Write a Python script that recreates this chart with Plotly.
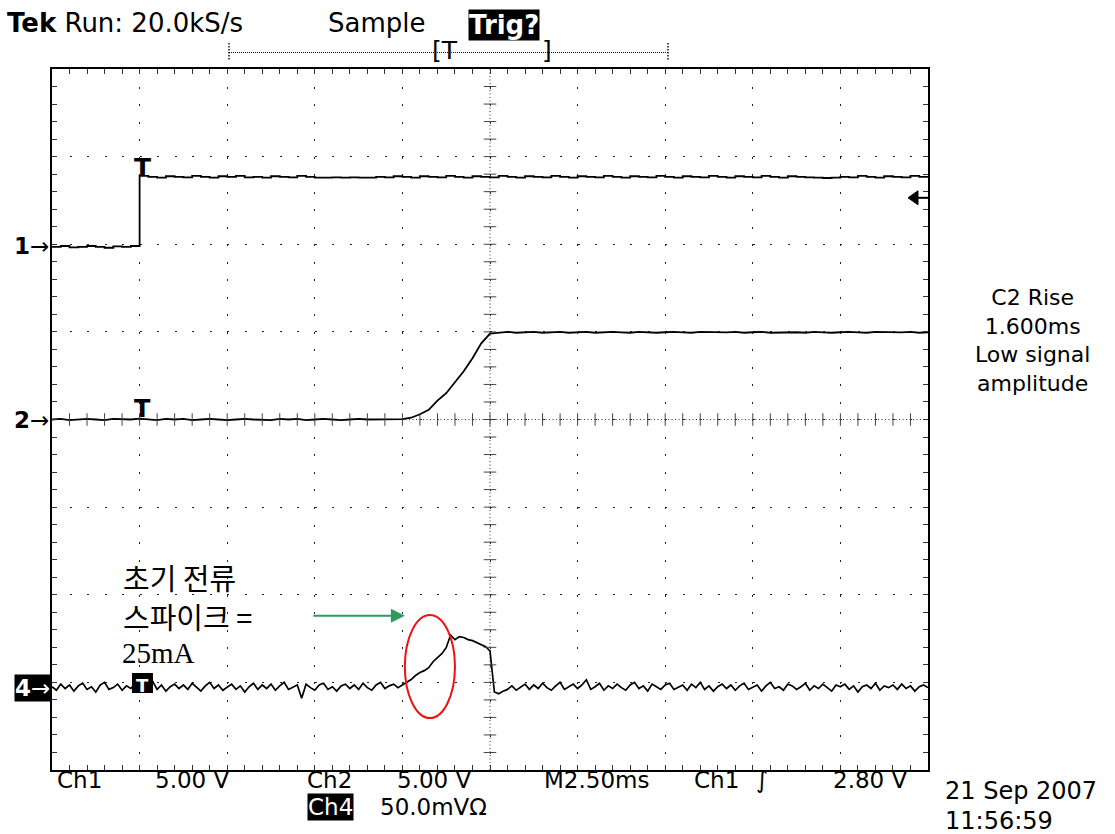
import plotly.graph_objects as go

# ---------------- data read from the scope screen ----------------
# sample spacing (ms) of the recreated records
STEP_CH12 = 0.25
STEP_CH4 = 0.125

# Ch1 (5.00 V/div), volts
ch1_volts = [0.0, 0.05, -0.03, 0.0, 0.05, 0.0, -0.05, 0.03, 0.0, 0.05,
             4.05, 4.0, 3.95, 4.03, 4.0, 3.97, 4.05, 4.0, 3.95, 4.03,
             4.0, 4.05, 3.97, 4.0, 3.95, 4.03, 4.0, 3.97, 4.05, 4.0,
             3.95, 3.95, 3.97, 3.95, 3.97, 3.95, 3.95, 4.0, 3.97, 4.03,
             4.0, 3.95, 4.03, 4.0, 3.97, 4.05, 4.0, 3.95, 4.03, 4.0,
             3.97, 4.05, 4.0, 3.95, 4.03, 4.0, 3.97, 4.05, 4.0, 3.95,
             4.03, 4.0, 3.97, 4.05, 4.0, 3.95, 4.03, 4.0, 3.97, 4.05,
             4.0, 3.95, 4.03, 4.0, 3.97, 4.05, 4.0, 3.95, 4.03, 4.0,
             3.97, 4.05, 4.0, 3.95, 4.03, 4.0, 3.97, 3.95, 3.93, 3.95,
             4.0, 3.97, 4.05, 4.0, 3.95, 4.03, 4.0, 3.97, 4.05, 4.0, 4.0]

# Ch2 (5.00 V/div), volts
ch2_volts = [0.0, 0.03, -0.03, 0.0, 0.03, 0.0, -0.03, 0.03, 0.0, 0.0,
             0.05, 0.0, -0.03, 0.03, 0.0, 0.03, -0.03, 0.0, 0.03, 0.0,
             -0.03, 0.0, 0.03, 0.0, 0.0, -0.03, 0.03, 0.0, 0.03, -0.03,
             0.0, 0.03, 0.0, -0.03, 0.0, 0.03, 0.0, 0.0, 0.03, 0.0,
             0.02, 0.1, 0.3, 0.55, 1.08, 1.5, 2.13, 2.75, 3.5, 4.35, 4.9, 4.97,
             5.0, 4.95, 4.98, 5.0, 4.95, 4.97, 5.0, 4.95, 4.97, 5.0,
             4.95, 4.98, 5.0, 4.97, 4.95, 5.0, 4.97, 4.95, 4.98, 5.0,
             4.97, 4.95, 5.0, 4.98, 4.95, 4.97, 5.0, 4.95, 4.98, 5.0,
             4.95, 4.97, 5.0, 4.98, 4.95, 5.0, 4.97, 4.95, 4.98, 5.0,
             4.97, 4.95, 5.0, 4.98, 4.95, 4.97, 5.0, 4.95, 4.98]

# Ch4 (50.0 mV/div, current probe), millivolts
ch4_mv = [0.5, -1.5, 2.0, -0.5, 1.5, -2.0, 1.0, 2.5, -1.0, 0.5,
          -2.5, 1.5, 3.0, -1.0, 0.0, 2.0, -1.5, 1.0, -0.5, 2.5,
          1.0, -1.5, 0.5, 3.5, -1.0, 1.5, -2.0, 0.5, 2.0, -0.5,
          1.5, -1.0, 2.5, 0.0, -2.0, 1.0, 3.0, -0.5, 1.5, -1.5,
          0.5, 2.0, -1.0, 1.0, -2.5, 0.5, 2.5, -1.0, 1.5, -0.5,
          2.0, -1.5, 1.0, 3.0, -1.0, 0.5, 1.5, -6.0, 2.0, 0.0,
          -1.5, 1.5, 2.5, -1.0, 0.5, -2.0, 1.0, 2.0, -0.5, 1.5,
          -1.0, 2.5, 0.0, -1.5, 1.5, 3.0, -0.5, 1.0, 2.0, 0.0,
          1.7, 2.9, 4.6, 6.9, 8.6, 9.7, 11.4, 14.8, 17.1, 19.4,
          22.8, 30.0, 27.4, 29.1, 28.6, 27.4, 26.8, 25.7, 24.6, 23.4,
          21.0, -2.5, -3.5, -2.0, -1.0, 1.0, -1.5, 0.5, 2.0, -1.0,
          1.5, -0.5, 2.5, 0.0, -1.5, 1.0, 3.0, -1.0, 0.5, 2.0,
          -0.5, 1.5, 4.5, -1.0, 0.5, 2.5, -1.5, 1.0, -0.5, 2.0,
          0.0, -1.5, 1.5, 3.0, -0.5, 1.0, -2.0, 2.0, 0.5, -1.0,
          1.5, 2.5, -1.0, 0.5, 1.5, -1.5, 2.0, 0.0, 3.0, -1.0,
          1.0, -2.0, 0.5, 2.0, -0.5, 1.5, -1.5, 1.0, 2.5, -1.0,
          0.5, 1.5, -2.0, 1.0, 3.0, -0.5, 0.5, -1.5, 2.0, 1.0,
          -1.0, 0.5, 2.5, -1.5, 1.0, -0.5, 2.0, 0.0, -2.0, 1.5,
          0.5, 2.0, -1.0, 1.0, -2.5, 0.5, 1.5, -0.5, 2.5, -1.5,
          1.0, 0.0, 1.5, -1.0, 2.0, -0.5, 1.0, -2.0, 0.5, 1.5, 0.0]

# channel position (div) and vertical scale (units/div)
CH1_POS, CH1_SCALE = 1.97, 5.0
CH2_POS, CH2_SCALE = 0.0, 5.0
CH4_POS, CH4_SCALE = -3.06, 50.0
TRIG_LEVEL_V = 2.80          # Ch1 trigger level

header_texts = ["<b>Tek</b> Run: 20.0kS/s", "Sample", "<b>Trig?</b>"]
bottom_texts = ["Ch1", "5.00 V", "Ch2", "5.00 V", "M2.50ms", "Ch1", "\u222b", "2.80 V"]
measure_lines = ["C2 Rise", "1.600ms", "Low signal", "amplitude"]
note_lines = ["초기 전류", "스파이크 =", "25mA"]

# ---------------- geometry ----------------
W, H = 1115, 834
L, R, T, B = 52, 928, 69, 770
PW, PH = R - L, B - T
TEK = "DejaVu Sans"


def px_x(px):
    return (px - L) / PW


def px_y(py):
    return (B - py) / PH


def to_div(values, pos, scale):
    return [pos + v / scale for v in values]


t1 = [STEP_CH12 * k for k in range(len(ch1_volts))]
t2 = [STEP_CH12 * k for k in range(len(ch2_volts))]
t4 = [STEP_CH4 * k for k in range(len(ch4_mv))]

fig = go.Figure()
fig.add_trace(go.Scatter(x=t1, y=to_div(ch1_volts, CH1_POS, CH1_SCALE), mode="lines",
                         line=dict(color="black", width=1.8, shape="hv"), hoverinfo="skip"))
fig.add_trace(go.Scatter(x=t2, y=to_div(ch2_volts, CH2_POS, CH2_SCALE), mode="lines",
                         line=dict(color="black", width=1.8), hoverinfo="skip"))
fig.add_trace(go.Scatter(x=t4, y=to_div(ch4_mv, CH4_POS, CH4_SCALE), mode="lines",
                         line=dict(color="black", width=1.7), hoverinfo="skip"))

# centre cross-hair tick marks
cy = [k * 0.2 - 4 for k in range(1, 40)]
cx = [k * 0.5 for k in range(1, 50)]
fig.add_trace(go.Scatter(x=[12.5] * len(cy), y=cy, mode="markers", hoverinfo="skip",
                         marker=dict(symbol="line-ew", size=9, line=dict(width=1, color="#444"))))
fig.add_trace(go.Scatter(x=cx, y=[0] * len(cx), mode="markers", hoverinfo="skip",
                         marker=dict(symbol="line-ns", size=9, line=dict(width=1, color="#444"))))

axis_common = dict(showgrid=True, gridcolor="#222", gridwidth=1.3, griddash="2px,15.52px",
                   ticks="inside", ticklen=5, tickwidth=1, tickcolor="#333",
                   showline=True, linecolor="black", linewidth=2, mirror="allticks",
                   showticklabels=False, zeroline=False, fixedrange=True)
fig.update_xaxes(range=[0, 25], tick0=0, dtick=2.5,
                 minor=dict(dtick=0.5, ticks="inside", ticklen=5, tickwidth=1, tickcolor="#333", showgrid=False),
                 **axis_common)
fig.update_yaxes(range=[-4, 4], tick0=-4, dtick=1,
                 minor=dict(dtick=0.2, ticks="inside", ticklen=5, tickwidth=1, tickcolor="#333", showgrid=False),
                 **axis_common)

shapes = []
# dense centre lines
shapes.append(dict(type="line", xref="x", yref="y", x0=12.5, x1=12.5, y0=-4, y1=4,
                   line=dict(color="#333", width=1, dash="1px,2.5px"), layer="below"))
shapes.append(dict(type="line", xref="x", yref="y", x0=0, x1=25, y0=0, y1=0,
                   line=dict(color="#333", width=1, dash="1px,2.5px"), layer="below"))
# red ellipse round the current spike
shapes.append(dict(type="circle", xref="x", yref="y", x0=10.07, x1=11.50, y0=-3.407, y1=-2.231,
                   line=dict(color="#ee1111", width=2)))
# record-window bracket above the graticule
shapes.append(dict(type="line", xref="paper", yref="paper", x0=px_x(229), x1=px_x(668),
                   y0=px_y(52.5), y1=px_y(52.5), line=dict(color="#111", width=1, dash="1px,1px")))
for bx in (229, 668):
    shapes.append(dict(type="line", xref="paper", yref="paper", x0=px_x(bx), x1=px_x(bx),
                       y0=px_y(43), y1=px_y(61), line=dict(color="#111", width=1.5, dash="1.5px,1.5px")))
# trigger level marker on the right edge
ty = 419.5 - (CH1_POS + TRIG_LEVEL_V / CH1_SCALE) * (PH / 8)
tri = "M {},{} L {},{} L {},{} Z".format(px_x(908), px_y(ty), px_x(918), px_y(ty - 7),
                                         px_x(918), px_y(ty + 7))
shapes.append(dict(type="path", xref="paper", yref="paper", path=tri,
                   fillcolor="black", line=dict(color="black", width=1)))
shapes.append(dict(type="line", xref="paper", yref="paper", x0=px_x(917), x1=px_x(928),
                   y0=px_y(ty), y1=px_y(ty), line=dict(color="black", width=2)))
# black box behind the Ch4 trigger marker
shapes.append(dict(type="rect", xref="paper", yref="paper", x0=px_x(132), x1=px_x(153),
                   y0=px_y(693), y1=px_y(673), fillcolor="black", line=dict(width=0)))

ann = []


def label(text, x, y, size=26, xanchor="left", color="black", bg="rgba(0,0,0,0)",
          family=TEK, yanchor="middle"):
    ann.append(dict(text=text, x=px_x(x), y=px_y(y), xref="paper", yref="paper",
                    xanchor=xanchor, yanchor=yanchor, showarrow=False, bgcolor=bg,
                    borderpad=0, font=dict(family=family, size=size, color=color)))


# header
label(header_texts[0], 6, 23)
label(header_texts[1], 327, 23)
label(header_texts[2], 504, 25, xanchor="center", color="white", bg="black")
label("[T", 431, 51, size=25)
label("]", 541, 51, size=25)

# bottom status line
for txt, xl in zip(bottom_texts, [56, 154, 306, 396, 543, 693, 755, 832]):
    label(txt, xl, 780, size=23)
label("Ch4", 330, 807, size=23, xanchor="center", color="white", bg="black")
label("50.0mV\u03a9", 379, 807, size=23)
label("21 Sep 2007", 944, 791, size=24)
label("11:56:59", 944, 821, size=24)

# measurement read-out
label("<br>".join(measure_lines), 1032, 340, size=22, xanchor="center")

# channel ground markers
label("<b>1</b>\u2192", 50, 246, size=23, xanchor="right")
label("<b>2</b>\u2192", 50, 420, size=23, xanchor="right")
label("<b>4</b>\u2192", 51, 688, size=23, xanchor="right", color="white", bg="black")

# trigger position markers
label("<b>T</b>", 142, 167, size=25, xanchor="center")
label("<b>T</b>", 142, 409, size=24, xanchor="center")
label("<b>T</b>", 142, 685, size=18, xanchor="center", color="white")

# Korean note
label(note_lines[0], 122, 577, size=29, family="Noto Sans CJK KR")
label(note_lines[1], 122, 616, size=29, family="Noto Sans CJK KR")
label(note_lines[2], 121, 653, size=29, family="Liberation Serif")

# green arrow
ann.append(dict(x=10.07, y=-2.24, xref="x", yref="y", ax=-93, ay=0, text="",
                showarrow=True, arrowhead=2, arrowsize=1.4, arrowwidth=2,
                arrowcolor="#2e9a5e"))

fig.update_layout(width=W, height=H, autosize=False,
                  margin=dict(l=L, r=W - R, t=T, b=H - B, pad=0),
                  paper_bgcolor="white", plot_bgcolor="white",
                  showlegend=False, shapes=shapes, annotations=ann,
                  font=dict(family=TEK, color="black"))

fig.write_html("out.html", config={"displayModeBar": False})
